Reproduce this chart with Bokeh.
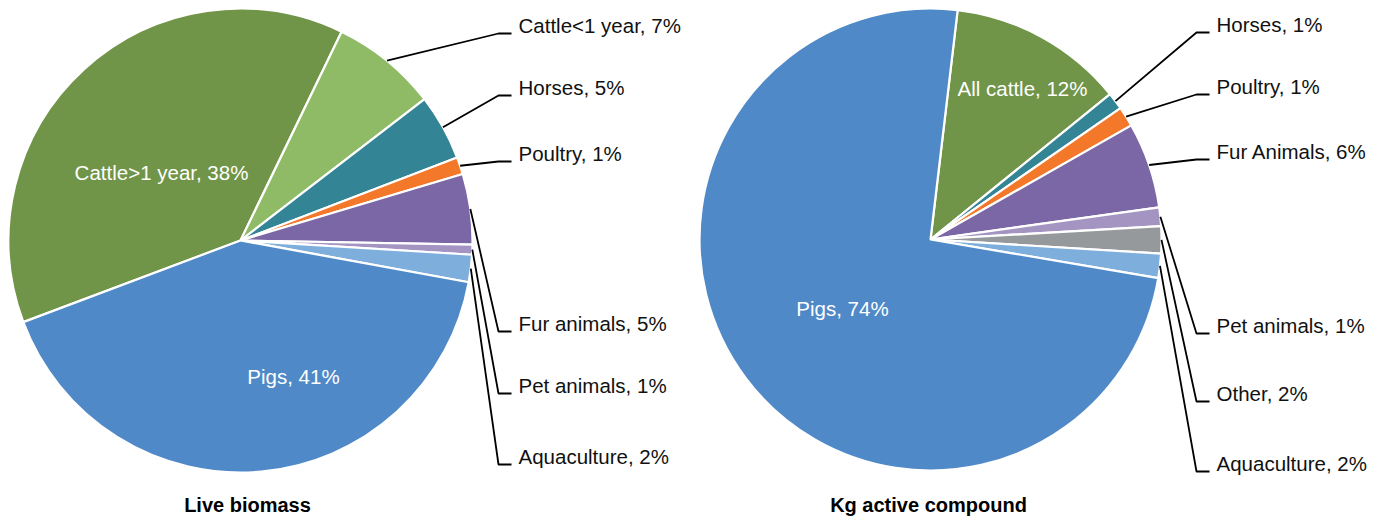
import math
from bokeh.plotting import figure
from bokeh.models import Range1d, ColumnDataSource
from bokeh.embed import file_html
from bokeh.resources import INLINE
from bokeh.core.properties import value

# ---------------- data ----------------
bio_categories = ["Cattle>1 year", "Cattle<1 year", "Horses", "Poultry",
                  "Fur animals", "Pet animals", "Aquaculture", "Pigs"]
bio_values = [37.9, 7.4, 4.6, 1.2, 4.9, 0.7, 1.9, 41.4]
bio_title = "Live biomass"

kg_categories = ["All cattle", "Horses", "Poultry", "Fur Animals",
                 "Pet animals", "Other", "Aquaculture", "Pigs"]
kg_values = [12.3, 1.2, 1.4, 6.0, 1.3, 1.9, 1.7, 74.2]
kg_title = "Kg active compound"

color_map = {
    "Cattle>1 year": "#709448", "Cattle<1 year": "#8FBB66", "All cattle": "#709448",
    "Horses": "#338595", "Poultry": "#F3782A", "Fur animals": "#7B67A6",
    "Fur Animals": "#7B67A6", "Pet animals": "#A394C2", "Other": "#96999B",
    "Aquaculture": "#7DAEDC", "Pigs": "#4F89C7",
}

# ---------------- layout (image pixel coords) ----------------
W, H = 1384, 517
FONT = "Liberation Sans"
FS = "20.5px"

def X(px):
    return px

def Y(py):
    return H - py

pies = [
    dict(cats=bio_categories, vals=bio_values, title=bio_title,
         cx=240, cy=240, r=232, start=249.4, label_x=518,
         outer_y=[None, 25, 87, 153, 323, 385, 456, None],
         inside={0: (161, 172), 7: (293, 376)},
         title_pos=(247, 504)),
    dict(cats=kg_categories, vals=kg_values, title=kg_title,
         cx=930, cy=239, r=231, start=6.75, label_x=1216,
         outer_y=[None, 24, 86, 151, 325, 393, 463, None],
         inside={0: (1022, 88), 7: (842, 308)},
         title_pos=(928, 504)),
]

p = figure(width=W, height=H, x_range=Range1d(0, W), y_range=Range1d(0, H),
           output_backend="svg", toolbar_location=None, min_border=0,
           x_axis_type=None, y_axis_type=None)
p.grid.visible = False
p.outline_line_color = None
p.background_fill_color = "white"
p.border_fill_color = "white"

for pie in pies:
    total = sum(pie["vals"])
    theta = pie["start"]
    starts, ends, mids, colors = [], [], [], []
    for c, v in zip(pie["cats"], pie["vals"]):
        span = v / total * 360.0
        t1, t2 = theta, theta + span
        # clockwise-from-top -> math angle (anticlockwise from +x)
        starts.append(math.radians(90 - t2))
        ends.append(math.radians(90 - t1))
        mids.append((t1 + t2) / 2)
        colors.append(color_map[c])
        theta = t2
    src = ColumnDataSource(dict(
        x=[X(pie["cx"])] * len(starts), y=[Y(pie["cy"])] * len(starts),
        s=starts, e=ends, c=colors))
    p.wedge(x="x", y="y", radius=pie["r"], start_angle="s", end_angle="e",
            fill_color="c", line_color="white", line_width=2.2, source=src,
            direction="anticlock")

    labels = [f"{c}, {round(v / total * 100)}%" for c, v in zip(pie["cats"], pie["vals"])]

    # outer labels with leader lines
    lx, ly, lt, xs, ys = [], [], [], [], []
    for i, oy in enumerate(pie["outer_y"]):
        if oy is None:
            continue
        m = math.radians(mids[i])
        sx = pie["cx"] + pie["r"] * math.sin(m)
        sy = pie["cy"] - pie["r"] * math.cos(m)
        ex, ey = pie["label_x"] - 20, oy + 8
        fx = pie["label_x"] - 7
        xs.append([X(sx), X(ex), X(fx)])
        ys.append([Y(sy), Y(ey), Y(ey)])
        lx.append(X(pie["label_x"]))
        ly.append(Y(oy))
        lt.append(labels[i])
    p.multi_line(xs=xs, ys=ys, line_color="black", line_width=1.8)
    p.text(x=lx, y=ly, text=lt, text_font=value(FONT), text_font_size=FS,
           text_color="#111111", text_align="left", text_baseline="middle")

    # inside labels
    ix, iy, it = [], [], []
    for i, (px, py) in pie["inside"].items():
        ix.append(X(px)); iy.append(Y(py)); it.append(labels[i])
    p.text(x=ix, y=iy, text=it, text_font=value(FONT), text_font_size=FS,
           text_color="white", text_align="center", text_baseline="middle")

    # title
    tx, ty = pie["title_pos"]
    p.text(x=[X(tx)], y=[Y(ty)], text=[pie["title"]], text_font=value(FONT),
           text_font_size="20px", text_font_style="bold", text_color="black",
           text_align="center", text_baseline="middle")

open("out.html", "w").write(file_html(p, INLINE))
